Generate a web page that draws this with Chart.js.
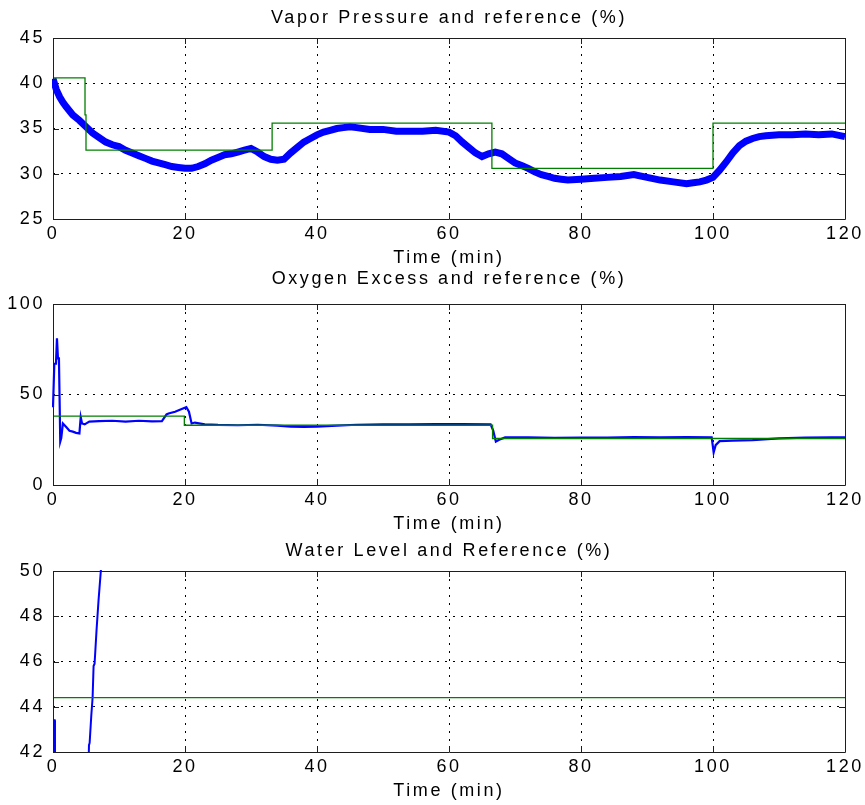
<!DOCTYPE html>
<html>
<head>
<meta charset="utf-8">
<script src="https://cdn.jsdelivr.net/npm/chart.js@4.4.1/dist/chart.umd.min.js"></script>
<style>
  html, body { margin: 0; padding: 0; background: #fff; overflow: hidden; }
  #wrap { position: relative; width: 865px; height: 805px; }
  canvas { position: absolute; left: 0; }
</style>
</head>
<body>
<div id="wrap">
  <canvas id="vapor" width="865" height="275" style="top:0px"></canvas>
  <canvas id="oxygen" width="865" height="275" style="top:261px"></canvas>
  <canvas id="water" width="865" height="277" style="top:528px"></canvas>
</div>
<script>
// time axis ticks (min)
const timeTicks = [0, 20, 40, 60, 80, 100, 120];

// Vapor pressure (%)
const vaporTime = [0, 0.5, 1, 1.5, 2, 3, 4, 5, 6, 7, 8, 9, 10, 11, 12, 13, 14, 15, 16, 17, 18, 19, 20,
  21, 22, 23, 24, 25, 26, 27, 28, 29, 30, 31, 32, 33, 34, 35, 36, 37, 38, 39, 40, 41, 42, 43, 44, 45, 46,
  48, 50, 52, 54, 56, 58, 60, 61, 62, 63, 64, 65, 66, 67, 68, 69, 70, 71, 72, 73, 74, 75, 76, 77, 78,
  80, 82, 84, 86, 88, 90, 92, 94, 96, 97, 98, 99, 100, 101, 102, 103, 104, 105, 106, 107, 108,
  110, 112, 114, 116, 118, 120];
const vaporValues = [40.5, 39.3, 38.5, 37.9, 37.4, 36.5, 35.9, 35.2, 34.5, 34.0, 33.5, 33.2, 33.0, 32.6,
  32.3, 32.0, 31.7, 31.4, 31.2, 31.0, 30.8, 30.7, 30.6, 30.6, 30.8, 31.1, 31.5, 31.8, 32.1, 32.2, 32.4,
  32.6, 32.8, 32.4, 31.9, 31.6, 31.5, 31.6, 32.3, 32.9, 33.5, 33.9, 34.3, 34.6, 34.8, 35.0, 35.1, 35.2,
  35.1, 34.9, 34.9, 34.7, 34.7, 34.7, 34.8, 34.6, 34.2, 33.5, 32.9, 32.3, 31.9, 32.2, 32.4, 32.2, 31.7,
  31.2, 30.9, 30.6, 30.2, 29.9, 29.7, 29.5, 29.4, 29.3, 29.4, 29.5, 29.6, 29.7, 29.9, 29.6, 29.3, 29.1,
  28.9, 29.0, 29.1, 29.3, 29.6, 30.4, 31.3, 32.3, 33.1, 33.6, 33.9, 34.1, 34.2, 34.3, 34.3, 34.4, 34.3,
  34.4, 34.1];
const vaporRefTime = [0, 4.85, 5.0, 33.2, 66.5, 100, 120];
const vaporRefValues = [40.6, 36.5, 32.6, 35.6, 30.6, 35.6, 35.6];
const vaporTicks = [25, 30, 35, 40, 45];

// Oxygen excess (%)
const oxyTime = [0, 0.15, 0.2, 0.45, 0.6, 0.75, 0.9, 1.1, 1.25, 1.5, 2, 2.5, 3, 3.5, 4, 4.2, 4.4, 4.8,
  5.5, 7, 9, 11, 13, 15, 16.5, 17.2, 17.5, 18.5, 19.5, 20.2, 20.6, 21, 21.5, 23, 25, 28, 31, 34, 36, 38,
  40, 43, 46, 50, 54, 58, 62, 66.3, 66.7, 67.1, 67.6, 68.5, 72, 76, 80, 84, 88, 92, 96, 99.8, 100.1,
  100.4, 101, 103, 106, 110, 114, 118, 120];
const oxyValues = [43, 43, 67, 67, 81, 70, 70, 24, 26, 34, 32, 30, 29.5, 28.8, 28.5, 37.5, 34, 33.5,
  35, 35.3, 35.5, 35, 35.5, 35.2, 35.3, 39, 39.5, 40.5, 42, 43, 40.5, 34, 34.5, 33.5, 33.2, 33, 33.3,
  32.8, 32.2, 32.1, 32.2, 32.8, 33.3, 33.5, 33.5, 33.6, 33.7, 33.5, 30, 24, 25, 26.3, 26.3, 26, 26.2,
  26.2, 26.4, 26.3, 26.4, 26.3, 18, 22, 24.2, 24.5, 24.8, 25.8, 26.2, 26.3, 26.3];
const oxyRefTime = [0, 19.9, 66.6, 120];
const oxyRefValues = [38, 33, 25.7, 25.7];
const oxyTicks = [0, 50, 100];

// Water level (%)
const waterTime = [0, 0.25, 0.3, 5.3, 5.45, 5.55, 5.8, 6.0, 6.15, 6.3, 6.6, 6.9, 7.3, 7.6];
const waterValues = [43.4, 43.4, 38, 40, 42.3, 42.4, 43.6, 44.4, 45.8, 45.9, 47.4, 48.7, 50.2, 52];
const waterRefTime = [0, 120];
const waterRefValues = [44.4, 44.4];
const waterTicks = [42, 44, 46, 48, 50];

const toPoints = (ts, vs) => ts.map((t, i) => ({ x: t, y: vs[i] }));

Chart.defaults.font.family = "'Liberation Sans', Arial, sans-serif";
Chart.defaults.font.size = 18;
Chart.defaults.color = '#000';

// MATLAB style box with inward tick marks
const framePlugin = {
  id: 'frame',
  beforeDraw(chart) { chart.ctx.letterSpacing = '2.6px'; },
  afterDatasetsDraw(chart) {
    const { ctx, chartArea: a, scales: { x, y } } = chart;
    ctx.save();
    ctx.strokeStyle = '#1e1e1e';
    ctx.lineWidth = 1;
    ctx.beginPath();
    x.ticks.forEach(tk => {
      const px = Math.round(x.getPixelForValue(tk.value)) + 0.5;
      ctx.moveTo(px, a.bottom); ctx.lineTo(px, a.bottom - 6);
      ctx.moveTo(px, a.top); ctx.lineTo(px, a.top + 6);
    });
    y.ticks.forEach(tk => {
      const py = Math.round(y.getPixelForValue(tk.value)) + 0.5;
      ctx.moveTo(a.left, py); ctx.lineTo(a.left + 6, py);
      ctx.moveTo(a.right, py); ctx.lineTo(a.right - 6, py);
    });
    ctx.rect(a.left + 0.5, a.top + 0.5, a.right - a.left, a.bottom - a.top);
    ctx.stroke();
    ctx.restore();
  }
};

function makeChart(id, title, titlePad, xHeight, xTitlePad, yTicks, measured, measuredWidth, ref) {
  const gridBorder = { display: false, dash: [2, 6] };
  const grid = { color: '#000', lineWidth: 1, drawTicks: false };
  return new Chart(document.getElementById(id), {
    type: 'line',
    data: {
      datasets: [
        { data: ref, borderColor: '#008000', borderWidth: 1.3, pointRadius: 0, stepped: 'before', clip: 0 },
        { data: measured, borderColor: '#0000ff', borderWidth: measuredWidth, pointRadius: 0, tension: 0, clip: 1 }
      ]
    },
    options: {
      responsive: false,
      animation: false,
      events: [],
      layout: { padding: { left: 0, right: 20, top: 0, bottom: 0 } },
      plugins: {
        legend: { display: false },
        tooltip: { enabled: false },
        title: {
          display: true, text: title, fullSize: false,
          font: { size: 18, weight: 'normal' }, color: '#000',
          padding: titlePad
        }
      },
      scales: {
        x: {
          type: 'linear', min: timeTicks[0], max: timeTicks[timeTicks.length - 1],
          afterBuildTicks: s => { s.ticks = timeTicks.map(v => ({ value: v })); },
          afterFit: s => { s.height = xHeight; },
          ticks: { padding: 4, maxRotation: 0, autoSkip: false, color: '#000' },
          grid: grid, border: gridBorder,
          title: { display: true, text: 'Time (min)', color: '#000', font: { size: 18 }, padding: { top: 0, bottom: xTitlePad } }
        },
        y: {
          min: yTicks[0], max: yTicks[yTicks.length - 1],
          afterBuildTicks: s => { s.ticks = yTicks.map(v => ({ value: v })); },
          afterFit: s => { s.width = 53; },
          ticks: { padding: 8, color: '#000' },
          grid: grid, border: gridBorder
        }
      }
    },
    plugins: [framePlugin]
  });
}

makeChart('vapor', 'Vapor Pressure and reference (%)', { top: 7, bottom: 9.4 }, 56, 6.4, vaporTicks,
  toPoints(vaporTime, vaporValues), 7, toPoints(vaporRefTime, vaporRefValues));
makeChart('oxygen', 'Oxygen Excess and reference (%)', { top: 7, bottom: 14.4 }, 51, 1.4, oxyTicks,
  toPoints(oxyTime, oxyValues), 2.2, toPoints(oxyRefTime, oxyRefValues));
makeChart('water', 'Water Level and Reference (%)', { top: 12.2, bottom: 9.2 }, 53, 3.4, waterTicks,
  toPoints(waterTime, waterValues), 2, toPoints(waterRefTime, waterRefValues));
</script>
</body>
</html>
